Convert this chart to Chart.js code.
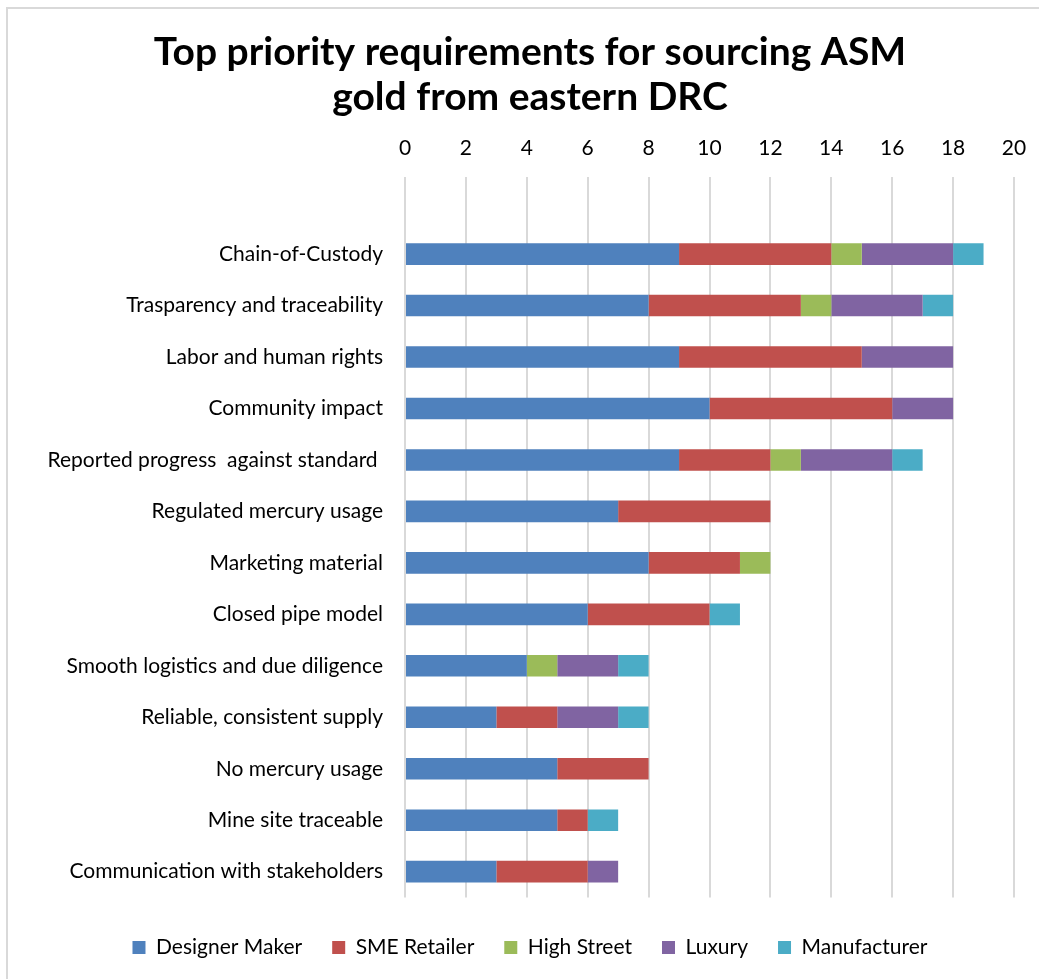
<!DOCTYPE html>
<html>
<head>
<meta charset="utf-8">
<script src="https://cdn.jsdelivr.net/npm/chart.js@4/dist/chart.umd.min.js"></script>
<style>
  html, body { margin: 0; padding: 0; background: #fff; overflow: hidden; }
  #frame {
    position: absolute; left: 6px; top: 7px;
    width: 1048px; height: 990px;
    border: 2px solid #d9d9d9; box-sizing: border-box;
  }
  #wrap { position: absolute; left: 0; top: 0; width: 1044px; height: 968px; }
</style>
</head>
<body>
<div id="frame"><div id="wrap"><canvas id="chart"></canvas></div></div>
<script>
const categories = [
  'Chain-of-Custody',
  'Trasparency and traceability',
  'Labor and human rights',
  'Community impact',
  'Reported progress  against standard ',
  'Regulated mercury usage',
  'Marketing material',
  'Closed pipe model',
  'Smooth logistics and due diligence',
  'Reliable, consistent supply',
  'No mercury usage',
  'Mine site traceable',
  'Communication with stakeholders'
];

const designerMaker = [9, 8, 9, 10, 9, 7, 8, 6, 4, 3, 5, 5, 3];
const smeRetailer   = [5, 5, 6, 6, 3, 5, 3, 4, 0, 2, 3, 1, 3];
const highStreet    = [1, 1, 0, 0, 1, 0, 1, 0, 1, 0, 0, 0, 0];
const luxury        = [3, 3, 3, 2, 3, 0, 0, 0, 2, 2, 0, 0, 1];
const manufacturer  = [1, 1, 0, 0, 1, 0, 0, 1, 1, 1, 0, 1, 0];

const xTicks = [0, 2, 4, 6, 8, 10, 12, 14, 16, 18, 20];

// Excel leaves an empty slot above the first category
const labels = [''].concat(categories);
const pad = arr => [null].concat(arr);

const font = 'Lato, "Open Sans", sans-serif';

const series = [
  { label: 'Designer Maker', data: designerMaker, color: '#4f81bd' },
  { label: 'SME Retailer', data: smeRetailer, color: '#c0504d' },
  { label: 'High Street', data: highStreet, color: '#9bbb59' },
  { label: 'Luxury', data: luxury, color: '#8064a2' },
  { label: 'Manufacturer', data: manufacturer, color: '#4bacc6' }
];

new Chart(document.getElementById('chart'), {
  type: 'bar',
  data: {
    labels,
    datasets: series.map(s => ({
      label: s.label,
      data: pad(s.data),
      backgroundColor: s.color,
      borderWidth: 0,
      categoryPercentage: 1,
      barPercentage: 0.42
    }))
  },
  options: {
    indexAxis: 'y',
    responsive: true,
    maintainAspectRatio: false,
    animation: false,
    layout: { padding: { left: 38, right: 38, top: 0, bottom: 9 } },
    plugins: {
      title: {
        display: true,
        text: ['Top priority requirements for sourcing ASM', 'gold from eastern DRC'],
        color: '#000',
        font: { family: font, size: 39, weight: 'bold', lineHeight: 1.15 },
        padding: { top: 21, bottom: 0 }
      },
      legend: {
        position: 'bottom',
        title: { display: true, text: '', font: { size: 8 }, padding: 0 },
        labels: {
          color: '#000',
          font: { family: font, size: 21 },
          boxWidth: 13,
          boxHeight: 13,
          padding: 30
        }
      },
      tooltip: { enabled: false }
    },
    scales: {
      x: {
        position: 'top',
        stacked: true,
        min: 0,
        max: 20,
        afterBuildTicks: axis => { axis.ticks = xTicks.map(v => ({ value: v })); },
        grid: { color: '#d9d9d9', lineWidth: 2, drawTicks: false },
        border: { display: false },
        ticks: { color: '#000', font: { family: font, size: 21 }, padding: 16 }
      },
      y: {
        stacked: true,
        afterFit: axis => { axis.width = 359; },
        grid: { display: false, drawTicks: false },
        border: { display: false },
        ticks: { color: '#000', font: { family: font, size: 21 }, padding: 22, autoSkip: false }
      }
    }
  }
});
</script>
</body>
</html>
